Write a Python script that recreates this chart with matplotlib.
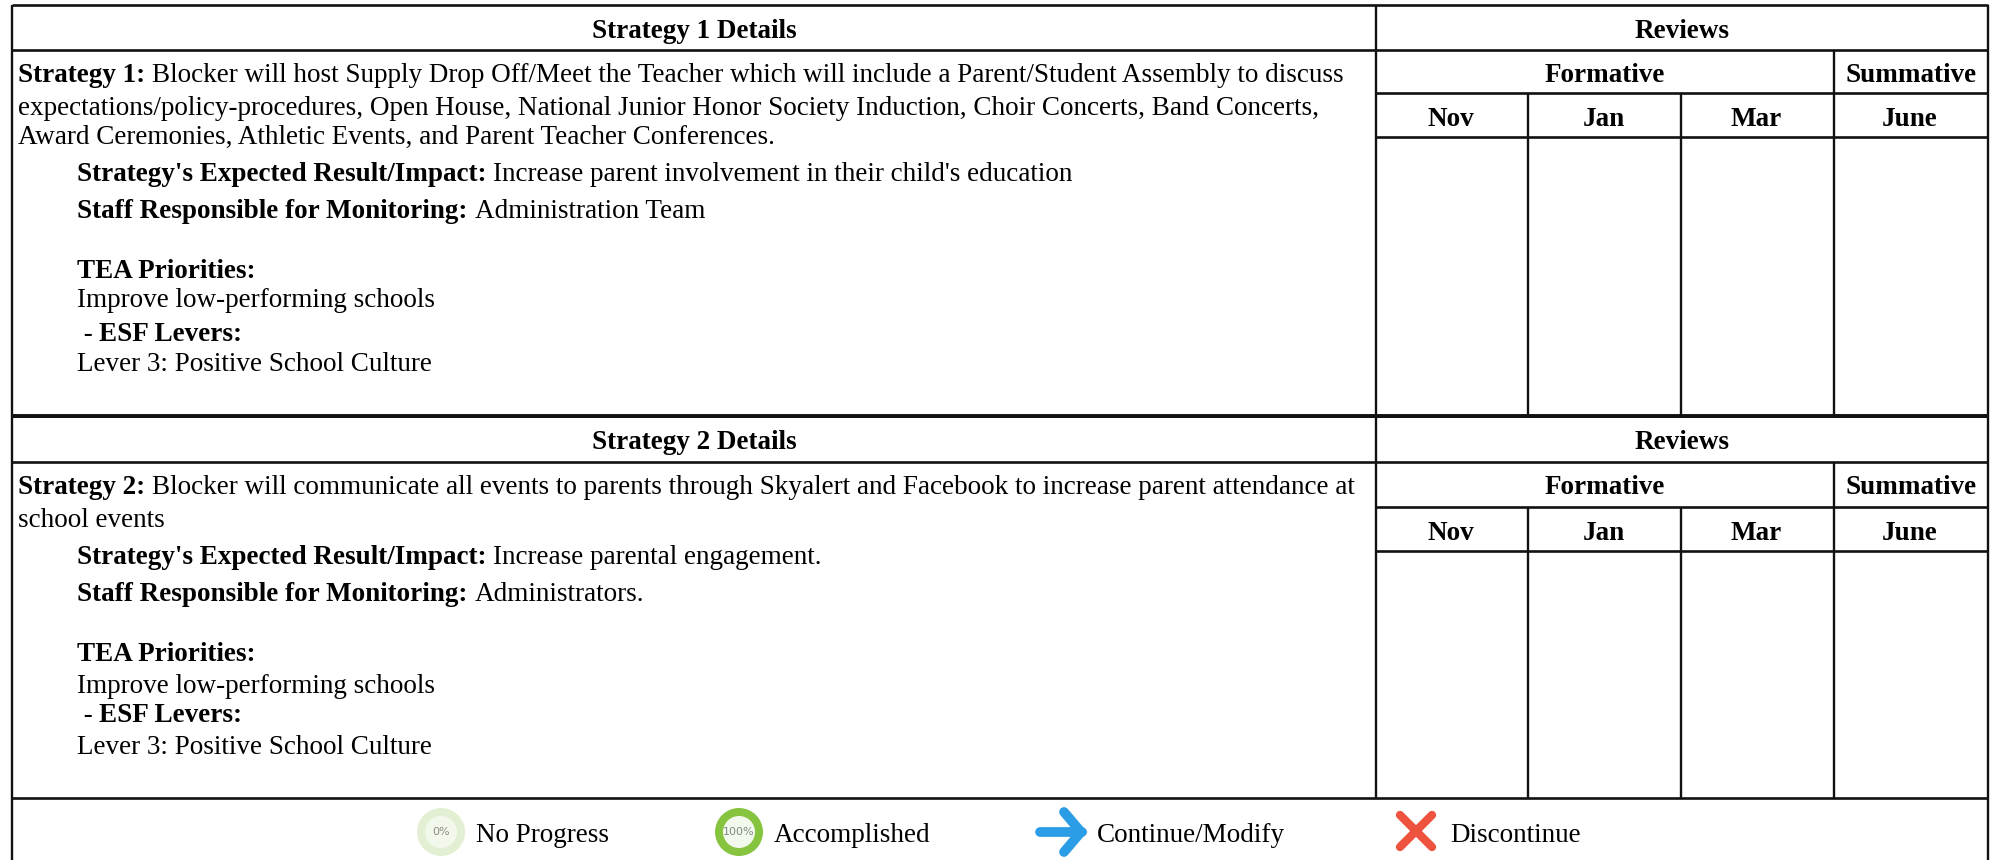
"""
Strategy review table with a status legend.
"""

import matplotlib

matplotlib.use("Agg")

import matplotlib.pyplot as plt
from matplotlib.patches import Circle

plt.rcParams["font.family"] = ["Liberation Serif", "DejaVu Serif"]

FONT_SIZE = 19.5

# Each line is (x, baseline y, [(text, bold), ...])
strategy_1_lines = [
    (18, 82, [("Strategy 1: ", True), ("Blocker will host Supply Drop Off/Meet the Teacher which will include a Parent/Student Assembly to discuss", False)]),
    (18, 115, [("expectations/policy-procedures, Open House, National Junior Honor Society Induction, Choir Concerts, Band Concerts,", False)]),
    (18, 144, [("Award Ceremonies, Athletic Events, and Parent Teacher Conferences.", False)]),
    (77, 181, [("Strategy's Expected Result/Impact: ", True), ("Increase parent involvement in their child's education", False)]),
    (77, 218, [("Staff Responsible for Monitoring: ", True), ("Administration Team", False)]),
    (77, 278, [("TEA Priorities:", True)]),
    (77, 307, [("Improve low-performing schools", False)]),
    (77, 341, [(" - ", False), ("ESF Levers:", True)]),
    (77, 371, [("Lever 3: Positive School Culture", False)]),
]

strategy_2_lines = [
    (18, 494, [("Strategy 2: ", True), ("Blocker will communicate all events to parents through Skyalert and Facebook to increase parent attendance at", False)]),
    (18, 527, [("school events", False)]),
    (77, 564, [("Strategy's Expected Result/Impact: ", True), ("Increase parental engagement.", False)]),
    (77, 601, [("Staff Responsible for Monitoring: ", True), ("Administrators.", False)]),
    (77, 661, [("TEA Priorities:", True)]),
    (77, 693, [("Improve low-performing schools", False)]),
    (77, 722, [(" - ", False), ("ESF Levers:", True)]),
    (77, 754, [("Lever 3: Positive School Culture", False)]),
]

detail_titles = ["Strategy 1 Details", "Strategy 2 Details"]
month_labels = ["Nov", "Jan", "Mar", "June"]
legend_labels = ["No Progress", "Accomplished", "Continue/Modify", "Discontinue"]

# Table grid, in image pixels
left = 12
right = 1988
col_x = [1376, 1528, 1681, 1834, 1988]
block_tops = [5, 416]
block_rows = [[50, 93, 137], [462, 507, 551]]
block_bottoms = [416, 798]
page_bottom = 860


def draw_runs(ax, x, y, runs):
    """
    Draw bold and regular pieces one after the other on a line.
    """

    renderer = ax.figure.canvas.get_renderer()
    inverse = ax.transData.inverted()

    for text, bold in runs:
        weight = "bold" if bold else "normal"
        ax.text(
            x,
            y,
            text,
            fontsize=FONT_SIZE,
            fontweight=weight,
            color="black",
            va="baseline",
            ha="left",
        )
        # A trailing space has no ink, so measure with no-break spaces
        probe = ax.text(
            x,
            y,
            text.replace(" ", "\u00a0"),
            fontsize=FONT_SIZE,
            fontweight=weight,
        )
        box = probe.get_window_extent(renderer)
        probe.remove()
        x = inverse.transform((box.x1, box.y0))[0]


def hline(ax, x0, x1, y, width=1.9):
    ax.plot([x0, x1], [y, y], color="#111111", lw=width, solid_capstyle="butt")


def vline(ax, x, y0, y1, width=1.7):
    ax.plot([x, x], [y0, y1], color="#111111", lw=width, solid_capstyle="butt")


def draw_block(ax, top, rows, bottom, title):
    """
    Draw the grid and headers of one strategy block.
    """

    hline(ax, left, right, top)
    hline(ax, left, col_x[0], rows[0])
    hline(ax, col_x[0], right, rows[0])
    hline(ax, col_x[0], right, rows[1])
    hline(ax, col_x[0], right, rows[2])

    vline(ax, col_x[0], top, bottom)
    vline(ax, col_x[3], rows[0], bottom)
    vline(ax, col_x[1], rows[1], bottom)
    vline(ax, col_x[2], rows[1], bottom)

    header = dict(fontsize=FONT_SIZE, fontweight="bold", ha="center", va="baseline")
    ax.text((left + col_x[0]) / 2, top + 33, title, **header)
    ax.text((col_x[0] + right) / 2, top + 33, "Reviews", **header)
    ax.text((col_x[0] + col_x[3]) / 2, rows[0] + 32, "Formative", **header)
    ax.text((col_x[3] + right) / 2, rows[0] + 32, "Summative", **header)

    for i, month in enumerate(month_labels):
        ax.text((col_x[i] + col_x[i + 1]) / 2 - 1, rows[1] + 33, month, **header)


def draw_legend(ax):
    """
    Draw the status icons and their labels.
    """

    y = 832

    ax.add_patch(Circle((441, y), 24, color="#e3efd3", lw=0))
    ax.add_patch(Circle((441, y), 16, color="#f3f8ec", lw=0))
    ax.text(441, y, "0%", fontsize=8, color="#8a8f86", family="DejaVu Sans",
            ha="center", va="center")

    ax.add_patch(Circle((739, y), 24, color="#86c440", lw=0))
    ax.add_patch(Circle((739, y), 16, color="#f3f8ec", lw=0))
    ax.text(739, y, "100%", fontsize=8, color="#7f8a86", family="DejaVu Sans",
            ha="center", va="center")

    # Arrow icon
    blue = "#2b9ce6"
    ax.plot([1040, 1082], [y, y], color=blue, lw=7, solid_capstyle="round")
    ax.plot([1064, 1081, 1064], [y - 20, y, y + 20], color=blue, lw=7,
            solid_capstyle="round", solid_joinstyle="miter")

    # Cross icon
    red = "#ee5340"
    ax.plot([1400, 1432], [y - 17, y + 15], color=red, lw=6, solid_capstyle="round")
    ax.plot([1432, 1400], [y - 17, y + 15], color=red, lw=6, solid_capstyle="round")

    for label, x in zip(legend_labels, [476, 774, 1097, 1450]):
        ax.text(x, y + 10, label, fontsize=FONT_SIZE, ha="left", va="baseline")


def main() -> None:
    """
    Build and save the figure.
    """

    fig = plt.figure(figsize=(19.97, 8.6), dpi=100)
    ax = fig.add_axes([0, 0, 1, 1])
    ax.set_xlim(0, 1997)
    ax.set_ylim(860, 0)
    ax.axis("off")

    vline(ax, left, block_tops[0], page_bottom)
    vline(ax, right, block_tops[0], page_bottom)

    for top, rows, bottom, title in zip(block_tops, block_rows, block_bottoms, detail_titles):
        draw_block(ax, top, rows, bottom, title)

    # The rule between the two strategies is heavier
    hline(ax, left, right, block_tops[1], width=2.8)
    hline(ax, left, right, block_bottoms[1])

    for x, y, runs in strategy_1_lines + strategy_2_lines:
        draw_runs(ax, x, y, runs)

    draw_legend(ax)

    fig.savefig("out.png", dpi=100)


if __name__ == "__main__":

    main()
